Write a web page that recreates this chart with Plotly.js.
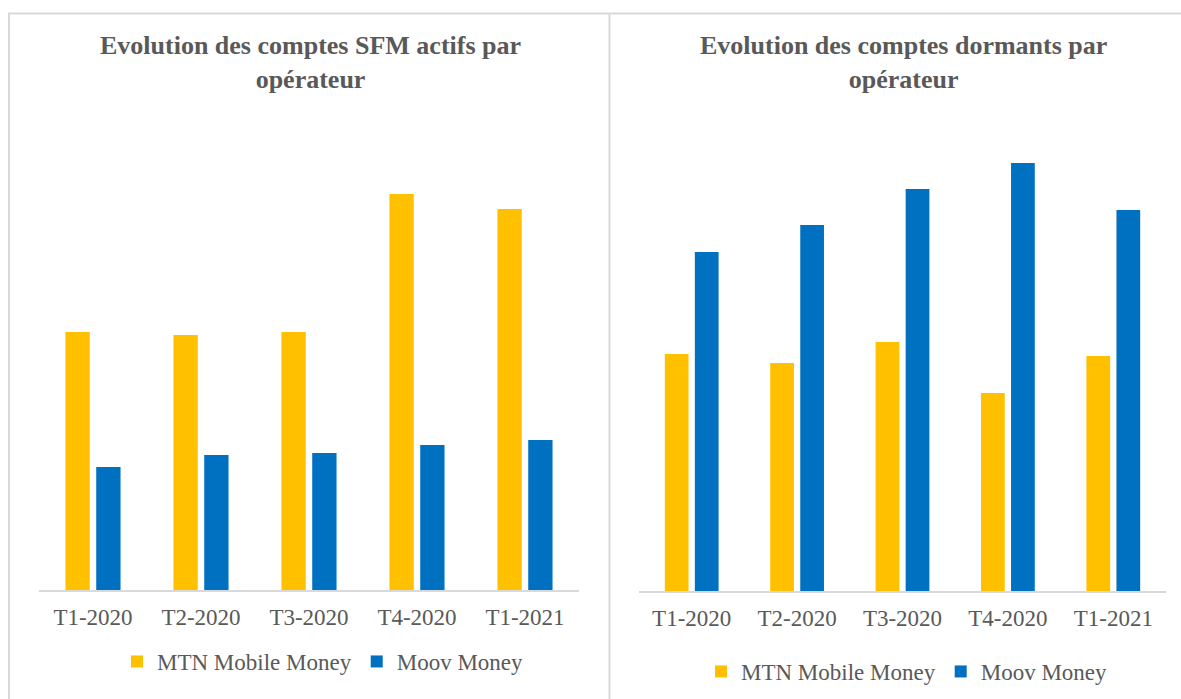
<!DOCTYPE html>
<html><head><meta charset="utf-8">
<script src="https://cdn.plot.ly/plotly-3.0.1.min.js"></script>
<style>html,body{margin:0;padding:0;background:#fff;overflow:hidden}#chart{width:1181px;height:699px}</style>
</head><body><div id="chart"></div>
<script>
const quarters = ["T1-2020", "T2-2020", "T3-2020", "T4-2020", "T1-2021"];
const activeMTN = [258, 255, 258, 396, 381];
const activeMoov = [123, 135, 137, 145, 150];
const dormantMTN = [237, 228, 249, 198, 235];
const dormantMoov = [339, 366, 402, 428, 381];
const seriesNames = ["MTN Mobile Money", "Moov Money"];
const chartTitles = ["Evolution des comptes SFM actifs par<br>opérateur", "Evolution des comptes dormants par<br>opérateur"];
const seriesColors = ["#FFC000", "#0070C0"];

const W = 1181, H = 699;
const px = v => v / W;
const py = v => 1 - v / H;
const FONT = "Liberation Serif";
const GREY = "#595959";
const BORDER = "#d9d9d9";

const traces = [
  {type: "bar", x: quarters, y: activeMTN, name: seriesNames[0], marker: {color: seriesColors[0]}, xaxis: "x", yaxis: "y", legend: "legend", hoverinfo: "x+y+name"},
  {type: "bar", x: quarters, y: activeMoov, name: seriesNames[1], marker: {color: seriesColors[1]}, xaxis: "x", yaxis: "y", legend: "legend", hoverinfo: "x+y+name"},
  {type: "bar", x: quarters, y: dormantMTN, name: seriesNames[0], marker: {color: seriesColors[0]}, xaxis: "x2", yaxis: "y2", legend: "legend2", hoverinfo: "x+y+name"},
  {type: "bar", x: quarters, y: dormantMoov, name: seriesNames[1], marker: {color: seriesColors[1]}, xaxis: "x2", yaxis: "y2", legend: "legend2", hoverinfo: "x+y+name"}
];

const xStyle = {
  showline: true, linecolor: BORDER, linewidth: 1.5, ticks: "", showgrid: false, zeroline: false,
  tickfont: {family: FONT, size: 23, color: GREY}, fixedrange: true, ticklabelstandoff: 6
};
const yStyle = {visible: false, range: [0, 440], showgrid: false, zeroline: false, fixedrange: true};

function legendAt(x, y) {
  return {
    orientation: "h", xanchor: "center", yanchor: "top", bgcolor: "rgba(0,0,0,0)",
    font: {family: FONT, size: 23, color: GREY}, traceorder: "normal", x: x, y: y
  };
}

const layout = {
  width: W, height: H, autosize: false,
  font: {family: FONT, size: 23, color: GREY},
  margin: {l: 0, r: 0, t: 0, b: 0},
  paper_bgcolor: "#ffffff", plot_bgcolor: "rgba(0,0,0,0)",
  barmode: "group", bargap: 0.43, bargroupgap: 0.21,
  showlegend: true,
  xaxis: Object.assign({}, xStyle, {domain: [px(39), px(579)], anchor: "y"}),
  yaxis: Object.assign({}, yStyle, {domain: [py(590), py(150)], anchor: "x"}),
  xaxis2: Object.assign({}, xStyle, {domain: [px(639), px(1166)], anchor: "y2"}),
  yaxis2: Object.assign({}, yStyle, {domain: [py(591), py(151)], anchor: "x2"}),
  legend: legendAt(px(323), py(640)),
  legend2: legendAt(px(907), py(650)),
  annotations: [
    {text: "<b>" + chartTitles[0] + "</b>", xref: "paper", yref: "paper", x: px(310), y: py(29), xanchor: "center", yanchor: "top", showarrow: false, align: "center", font: {family: FONT, size: 26, color: GREY}},
    {text: "<b>" + chartTitles[1] + "</b>", xref: "paper", yref: "paper", x: px(903), y: py(29), xanchor: "center", yanchor: "top", showarrow: false, align: "center", font: {family: FONT, size: 26, color: GREY}}
  ],
  shapes: [
    {type: "line", xref: "paper", yref: "paper", x0: px(8), x1: px(1181), y0: py(13.5), y1: py(13.5), line: {color: BORDER, width: 2}},
    {type: "line", xref: "paper", yref: "paper", x0: px(9), x1: px(9), y0: py(13), y1: py(699), line: {color: BORDER, width: 2}},
    {type: "line", xref: "paper", yref: "paper", x0: px(609.5), x1: px(609.5), y0: py(13), y1: py(699), line: {color: BORDER, width: 2}}
  ]
};

Plotly.newPlot("chart", traces, layout, {displayModeBar: false, responsive: false});
</script>
</body></html>
